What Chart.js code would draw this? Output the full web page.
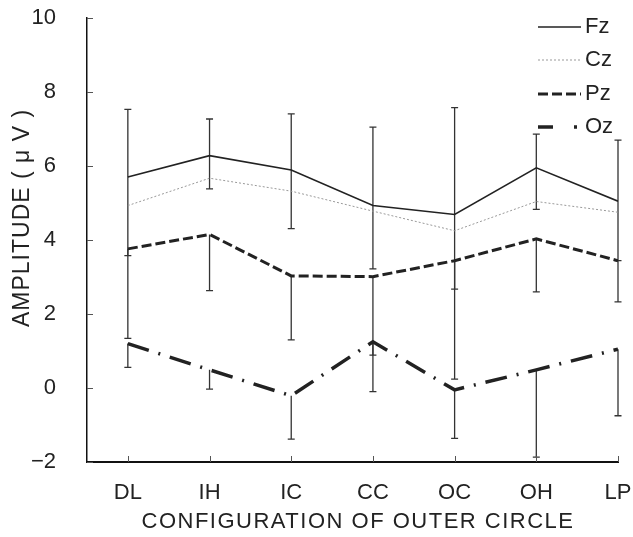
<!DOCTYPE html>
<html lang="en">
<head>
    <meta charset="UTF-8">
    <title>Amplitude by configuration of outer circle</title>
    <script src="https://cdn.jsdelivr.net/npm/chart.js"></script>
    <style>
        body {
            margin: 0;
            background-color: #ffffff;
        }
        canvas {
            display: block;
        }
    </style>
</head>
<body>
    <canvas id="chartCanvas" width="633" height="537"></canvas>
    <script>
        // Categorias del eje X
        const categories = ["DL", "IH", "IC", "CC", "OC", "OH", "LP"];

        // Amplitudes medias (uV) por electrodo
        const fz = [5.70, 6.28, 5.89, 4.93, 4.69, 5.95, 5.05];
        const cz = [4.93, 5.67, 5.32, 4.78, 4.25, 5.04, 4.75];
        const pz = [3.76, 4.15, 3.03, 3.01, 3.44, 4.03, 3.44];
        const oz = [1.20, 0.49, -0.21, 1.25, -0.05, 0.49, 1.05];

        // Extremos de las barras de error
        const fzHigh = [7.53, 7.27, 7.41, 7.05, 7.58, 6.86, 6.70];
        const fzLow = [3.58, 5.38, 4.31, 3.22, 2.67, 4.83, 3.44];
        const pzLow = [1.34, 2.63, 1.30, 0.89, 0.24, 2.60, 2.33];
        const ozLow = [0.56, -0.03, -1.38, -0.10, -1.36, -1.87, -0.75];

        // Ticks del eje Y
        const yTicks = [-2, 0, 2, 4, 6, 8, 10];

        const FONT = "'Liberation Sans', Arial, sans-serif";
        const toPoints = arr => arr.map((v, i) => ({ x: i, y: v }));

        // Barras de error
        const errorBarsPlugin = {
            id: "errorBars",
            beforeDatasetsDraw: (chart) => {
                const ctx = chart.ctx;
                const xs = chart.scales.x;
                const ys = chart.scales.y;
                const cap = 3.5;
                ctx.save();
                ctx.strokeStyle = "#333333";
                ctx.lineWidth = 1.3;
                const bar = (x, from, to, capFrom, capTo) => {
                    const y1 = ys.getPixelForValue(from);
                    const y2 = ys.getPixelForValue(to);
                    ctx.beginPath();
                    ctx.moveTo(x, y1);
                    ctx.lineTo(x, y2);
                    if (capFrom) { ctx.moveTo(x - cap, y1); ctx.lineTo(x + cap, y1); }
                    if (capTo) { ctx.moveTo(x - cap, y2); ctx.lineTo(x + cap, y2); }
                    ctx.stroke();
                };
                categories.forEach((c, i) => {
                    const x = xs.getPixelForValue(i);
                    bar(x, fzHigh[i], fzLow[i], true, true);
                    bar(x, pz[i], pzLow[i], false, true);
                    bar(x, oz[i], ozLow[i], false, true);
                });
                ctx.restore();
            }
        };

        // Marcas de los ejes hacia dentro, titulos y leyenda
        const decorPlugin = {
            id: "decor",
            afterDraw: (chart) => {
                const ctx = chart.ctx;
                const xs = chart.scales.x;
                const ys = chart.scales.y;
                const area = chart.chartArea;
                ctx.save();
                ctx.strokeStyle = "#555555";
                ctx.lineWidth = 1;
                ctx.beginPath();
                yTicks.forEach(v => {
                    const y = Math.round(ys.getPixelForValue(v)) + 0.5;
                    ctx.moveTo(area.left, y);
                    ctx.lineTo(area.left + 6, y);
                });
                categories.forEach((c, i) => {
                    const x = Math.round(xs.getPixelForValue(i)) + 0.5;
                    ctx.moveTo(x, area.bottom);
                    ctx.lineTo(x, area.bottom - 6);
                });
                ctx.stroke();

                // Titulos de los ejes
                ctx.fillStyle = "#222222";
                ctx.font = "22px " + FONT;
                ctx.textAlign = "center";
                ctx.textBaseline = "middle";
                if ("letterSpacing" in ctx) ctx.letterSpacing = "1.5px";
                ctx.fillText("CONFIGURATION OF OUTER CIRCLE", 358, 522);
                ctx.save();
                ctx.translate(23, 218);
                ctx.rotate(-Math.PI / 2);
                ctx.font = "23px " + FONT;
                if ("letterSpacing" in ctx) ctx.letterSpacing = "1px";
                ctx.fillText("AMPLITUDE ( \u03BC V )", 0, 0);
                ctx.restore();

                // Leyenda
                if ("letterSpacing" in ctx) ctx.letterSpacing = "0px";
                ctx.textAlign = "left";
                const legend = [
                    { label: "Fz", y: 27, color: "#222222", width: 1.5, dash: [] },
                    { label: "Cz", y: 60, color: "#999999", width: 1, dash: [2, 2] },
                    { label: "Pz", y: 94, color: "#222222", width: 3, dash: [10, 4] },
                    { label: "Oz", y: 127, color: "#222222", width: 3.5, dash: [15, 21, 3, 100] }
                ];
                legend.forEach(item => {
                    ctx.beginPath();
                    ctx.strokeStyle = item.color;
                    ctx.lineWidth = item.width;
                    ctx.setLineDash(item.dash);
                    ctx.moveTo(538, item.y);
                    ctx.lineTo(581, item.y);
                    ctx.stroke();
                    ctx.setLineDash([]);
                    ctx.fillStyle = "#222222";
                    ctx.fillText(item.label, 585, item.y);
                });
                ctx.restore();
            }
        };

        const ctx = document.getElementById("chartCanvas").getContext("2d");
        const chart = new Chart(ctx, {
            type: "line",
            data: {
                datasets: [
                    { label: "Fz", data: toPoints(fz), borderColor: "#222222", borderWidth: 1.6 },
                    { label: "Cz", data: toPoints(cz), borderColor: "#999999", borderWidth: 1, borderDash: [2, 2] },
                    { label: "Pz", data: toPoints(pz), borderColor: "#222222", borderWidth: 3, borderDash: [10, 4] },
                    { label: "Oz", data: toPoints(oz), borderColor: "#222222", borderWidth: 3.5, borderDash: [22, 10, 2, 10] }
                ]
            },
            options: {
                responsive: false,
                animation: false,
                layout: {
                    padding: { top: 18, right: 15, bottom: 0, left: 0 }
                },
                elements: {
                    point: { radius: 0 },
                    line: { tension: 0, fill: false }
                },
                plugins: {
                    legend: { display: false },
                    tooltip: { enabled: false }
                },
                scales: {
                    x: {
                        type: "linear",
                        min: -0.5,
                        max: categories.length - 1,
                        afterBuildTicks: (scale) => {
                            scale.ticks = categories.map((c, i) => ({ value: i }));
                        },
                        afterFit: (scale) => {
                            scale.height = 75;
                            scale.paddingLeft = 0;
                            scale.paddingRight = 0;
                        },
                        grid: { display: false, drawTicks: false },
                        border: { display: true, color: "#111111", width: 2 },
                        ticks: {
                            padding: 18,
                            maxRotation: 0,
                            autoSkip: false,
                            color: "#222222",
                            font: { family: FONT, size: 22 },
                            callback: (v) => categories[v] ?? ""
                        }
                    },
                    y: {
                        min: -2,
                        max: 10,
                        afterBuildTicks: (scale) => {
                            scale.ticks = yTicks.map(v => ({ value: v }));
                        },
                        afterFit: (scale) => {
                            scale.width = 87;
                            scale.paddingTop = 0;
                            scale.paddingBottom = 0;
                        },
                        grid: { display: false, drawTicks: false },
                        border: { display: true, color: "#111111", width: 1.5 },
                        ticks: {
                            padding: 31,
                            color: "#222222",
                            font: { family: FONT, size: 22 },
                            callback: (v) => v < 0 ? "\u2212" + Math.abs(v) : String(v)
                        }
                    }
                }
            },
            plugins: [errorBarsPlugin, decorPlugin]
        });
    </script>
</body>
</html>
